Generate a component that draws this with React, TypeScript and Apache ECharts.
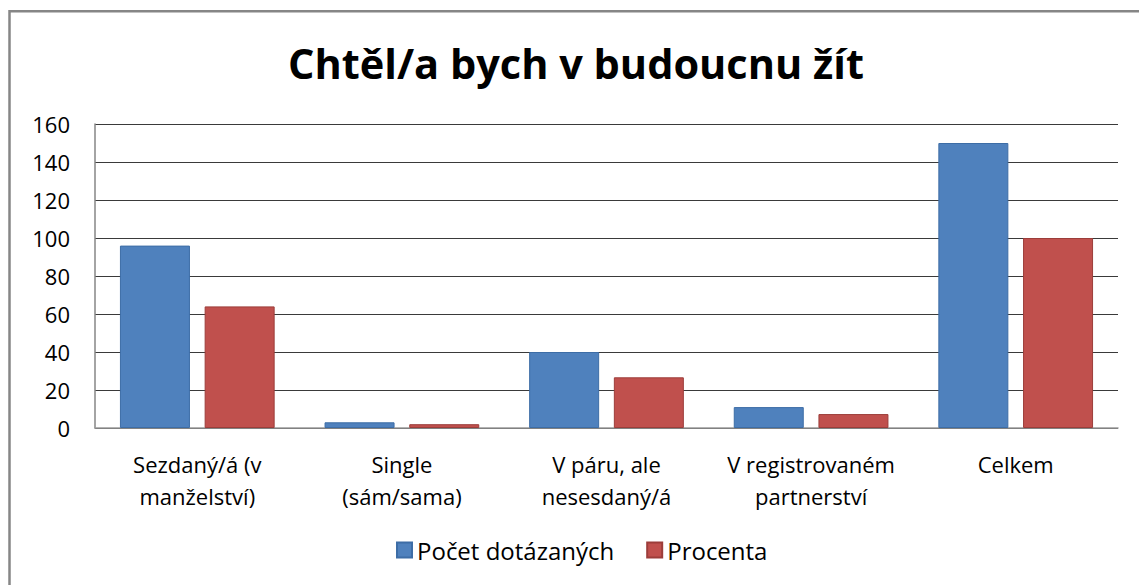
import React, { useEffect, useRef } from "react";
import * as echarts from "echarts";

const categories = [
  "Sezdaný/á (v\nmanželství)",
  "Single\n(sám/sama)",
  "V páru, ale\nnesesdaný/á",
  "V registrovaném\npartnerství",
  "Celkem",
];
const countValues = [96, 3, 40, 11, 150];
const percentValues = [64, 2, 26.67, 7.33, 100];
const seriesNames = ["Počet dotázaných", "Procenta"];
const titleText = "Chtěl/a bych v budoucnu žít";

const FONT = "'Open Sans', 'Liberation Sans', sans-serif";

export default function App() {
  const ref = useRef<HTMLDivElement>(null);
  useEffect(() => {
    if (!ref.current) return;
    const chart = echarts.init(ref.current, undefined, { renderer: "svg" });
    chart.setOption({
      animation: false,
      backgroundColor: "#ffffff",
      textStyle: { fontFamily: FONT },
      title: {
        text: titleText,
        left: 571,
        textAlign: "center",
        top: 37,
        textStyle: { fontFamily: FONT, fontSize: 41.5, fontWeight: "bold", color: "#000" },
      },
      graphic: [
        {
          type: "rect",
          shape: { x: 9.5, y: 11.2, width: 1300, height: 800 },
          style: { fill: "none", stroke: "#868686", lineWidth: 2.5 },
          silent: true,
        },
      ],
      legend: {
        data: seriesNames,
        left: 391,
        top: 533,
        icon: "rect",
        itemWidth: 15,
        itemHeight: 15,
        itemGap: 32,
        textStyle: { fontFamily: FONT, fontSize: 24, color: "#000" },
      },
      grid: { left: 95, right: 21, top: 124, bottom: 157, containLabel: false },
      xAxis: {
        type: "category",
        data: categories,
        axisLine: { show: true, lineStyle: { color: "#9a9a9a", width: 1.5 } },
        axisTick: { show: false },
        axisLabel: {
          interval: 0,
          margin: 20,
          fontFamily: FONT,
          fontSize: 22,
          lineHeight: 32,
          color: "#000",
        },
      },
      yAxis: {
        type: "value",
        min: 0,
        max: 160,
        interval: 20,
        axisLine: { show: true, lineStyle: { color: "#868686", width: 1.5 } },
        axisTick: { show: false },
        splitLine: { show: true, lineStyle: { color: "#3a3a3a", width: 1.2 } },
        axisLabel: { margin: 25, fontFamily: FONT, fontSize: 22, color: "#000" },
      },
      series: [
        {
          name: seriesNames[0],
          type: "bar",
          data: countValues,
          barWidth: 70,
          barGap: "21%",
          itemStyle: { color: "#4F81BD", borderColor: "#3d6da6", borderWidth: 1 },
        },
        {
          name: seriesNames[1],
          type: "bar",
          data: percentValues,
          barWidth: 70,
          itemStyle: { color: "#C0504D", borderColor: "#9c3d3a", borderWidth: 1 },
        },
      ],
    });
    return () => chart.dispose();
  }, []);
  return (
    <div
      ref={ref}
      style={{ position: "fixed", left: 0, top: 0, width: 1139, height: 585 }}
    />
  );
}
